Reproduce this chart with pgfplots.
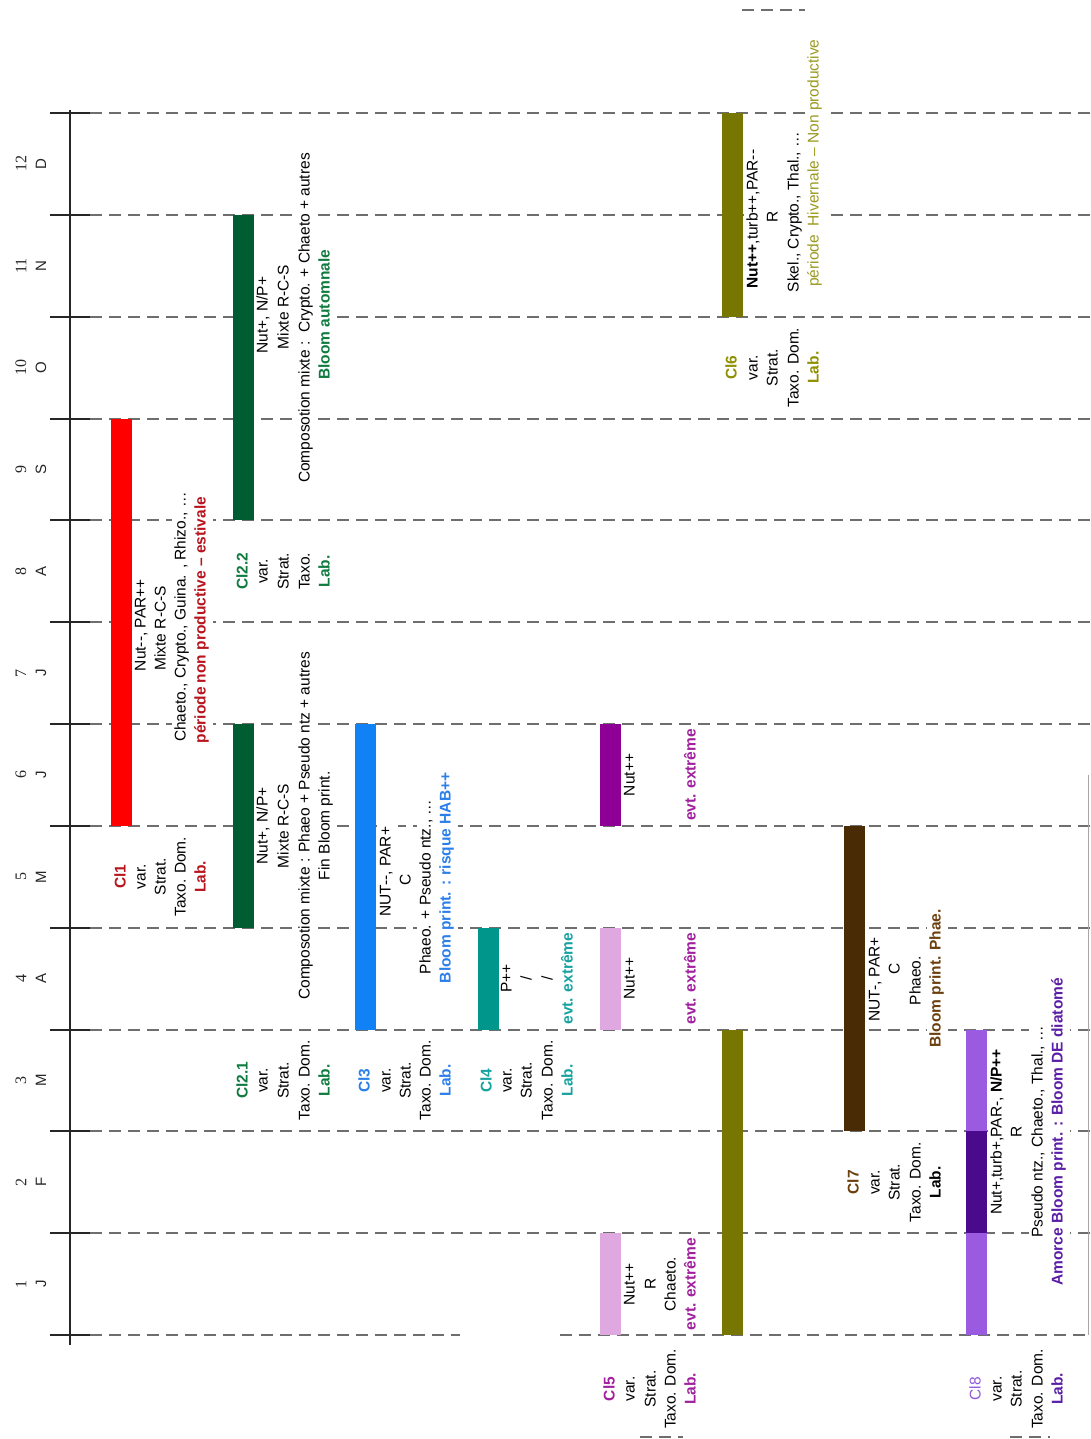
\documentclass[border=0pt]{standalone}
\usepackage{pgfplots}
\pgfplotsset{compat=1.18}
\usepackage{fontspec}
\setmainfont{Liberation Sans}
\newfontfamily\serifnum{Liberation Serif}

\definecolor{gridgray}{HTML}{6E6E6E}
\definecolor{cRed}{HTML}{FF0000}
\definecolor{tRed}{HTML}{B8141E}
\definecolor{cGreen}{HTML}{005C31}
\definecolor{tGreen}{HTML}{0F7B3F}
\definecolor{cBlue}{HTML}{1082F5}
\definecolor{tBlue}{HTML}{2A7FE8}
\definecolor{cTeal}{HTML}{00968C}
\definecolor{tTeal}{HTML}{16A3A0}
\definecolor{cPink}{HTML}{E0A8E0}
\definecolor{cPurple}{HTML}{8E0095}
\definecolor{tPurple}{HTML}{A0209E}
\definecolor{cOlive}{HTML}{767600}
\definecolor{tOlive}{HTML}{8F8F00}
\definecolor{tOlive2}{HTML}{9A9A20}
\definecolor{cBrown}{HTML}{492B06}
\definecolor{tBrown}{HTML}{6B3F0E}
\definecolor{cLav}{HTML}{9B5BE0}
\definecolor{cIndigo}{HTML}{4B0A8C}
\definecolor{tLav}{HTML}{8F5AD8}
\definecolor{tIndigo}{HTML}{5B1EA6}

\newcommand{\fs}{\fontsize{15.5}{18}\selectfont}
\tikzset{
  t/.style={rotate=90, fill=white, inner xsep=2pt, inner ysep=1.5pt,
    font=\fs, text=black},
  tb/.style={t, font=\fs\bfseries},
  mo/.style={rotate=90, inner sep=0pt, text=black!85},
  bar/.style={line width=21pt},
  dl/.style={gridgray, line width=2pt, dash pattern=on 12pt off 7pt},
}
\pgfplotsset{
  frame/.style={x=1pt, y=101.83pt, xmin=0, xmax=1090, ymin=-1.021, ymax=13.110,
    scale only axis, hide axis, clip=false, anchor=origin, at={(0,0)}},
}

\begin{document}
\begin{tikzpicture}
% lines layer
\begin{axis}[frame]
\coordinate (LL) at (axis cs:0,-1.021);
\coordinate (UR) at (axis cs:1090,13.110);
\pgfplotsinvokeforeach{1,...,12}{
  \addplot[dl] coordinates {(90,#1) (1090,#1)};
}
\addplot[dl] coordinates {(90,0) (460,0)};
\addplot[dl] coordinates {(560,0) (1090,0)};
\addplot[dl] coordinates {(742,13.012) (805,13.012)};
\addplot[dl] coordinates {(640,-1.002) (683,-1.002)};
\addplot[dl] coordinates {(1010,-1.0) (1050,-1.0)};
\addplot[gray!70, line width=0.8pt] coordinates {(1088,0) (1088,5.5)};
\addplot[black!85, line width=2pt] coordinates {(70,-0.1) (70,12.03)};
\pgfplotsinvokeforeach{0,...,12}{
  \addplot[black!85, line width=2pt] coordinates {(50,#1) (90,#1)};
}
\end{axis}

% text and bars
\begin{axis}[frame]
% month labels
\node[mo, font=\serifnum\fontsize{16}{16}\selectfont] at (axis cs:21,0.5) {1};
\node[mo, font=\serifnum\fontsize{16}{16}\selectfont] at (axis cs:21,1.5) {2};
\node[mo, font=\serifnum\fontsize{16}{16}\selectfont] at (axis cs:21,2.5) {3};
\node[mo, font=\serifnum\fontsize{16}{16}\selectfont] at (axis cs:21,3.5) {4};
\node[mo, font=\serifnum\fontsize{16}{16}\selectfont] at (axis cs:21,4.5) {5};
\node[mo, font=\serifnum\fontsize{16}{16}\selectfont] at (axis cs:21,5.5) {6};
\node[mo, font=\serifnum\fontsize{16}{16}\selectfont] at (axis cs:21,6.5) {7};
\node[mo, font=\serifnum\fontsize{16}{16}\selectfont] at (axis cs:21,7.5) {8};
\node[mo, font=\serifnum\fontsize{16}{16}\selectfont] at (axis cs:21,8.5) {9};
\node[mo, font=\serifnum\fontsize{16}{16}\selectfont] at (axis cs:21,9.5) {10};
\node[mo, font=\serifnum\fontsize{16}{16}\selectfont] at (axis cs:21,10.5) {11};
\node[mo, font=\serifnum\fontsize{16}{16}\selectfont] at (axis cs:21,11.5) {12};
\node[mo, font=\fontsize{15}{15}\selectfont] at (axis cs:41,0.5) {J};
\node[mo, font=\fontsize{15}{15}\selectfont] at (axis cs:41,1.5) {F};
\node[mo, font=\fontsize{15}{15}\selectfont] at (axis cs:41,2.5) {M};
\node[mo, font=\fontsize{15}{15}\selectfont] at (axis cs:41,3.5) {A};
\node[mo, font=\fontsize{15}{15}\selectfont] at (axis cs:41,4.5) {M};
\node[mo, font=\fontsize{15}{15}\selectfont] at (axis cs:41,5.5) {J};
\node[mo, font=\fontsize{15}{15}\selectfont] at (axis cs:41,6.5) {J};
\node[mo, font=\fontsize{15}{15}\selectfont] at (axis cs:41,7.5) {A};
\node[mo, font=\fontsize{15}{15}\selectfont] at (axis cs:41,8.5) {S};
\node[mo, font=\fontsize{15}{15}\selectfont] at (axis cs:41,9.5) {O};
\node[mo, font=\fontsize{15}{15}\selectfont] at (axis cs:41,10.5) {N};
\node[mo, font=\fontsize{15}{15}\selectfont] at (axis cs:41,11.5) {D};

% Cl1
\node[tb, text=tRed] at (axis cs:122,4.5) {\strut Cl1};
\node[t] at (axis cs:142,4.5) {\strut var.};
\node[t] at (axis cs:162,4.5) {\strut Strat.};
\node[t] at (axis cs:182,4.5) {\strut Taxo. Dom.};
\node[tb, text=tRed] at (axis cs:202,4.5) {\strut Lab.};
\node[t] at (axis cs:142,6.97) {\strut Nut-{}-, PAR++};
\node[t] at (axis cs:162,6.94) {\strut Mixte R-C-S};
\node[t] at (axis cs:182,7.05) {\strut Chaeto., Crypto., Guina. , Rhizo., \dots};
\node[tb, text=tRed] at (axis cs:202,7.02) {\strut période non productive – estivale};

% Cl2.1
\node[tb, text=tGreen] at (axis cs:244,2.5) {\strut Cl2.1};
\node[t] at (axis cs:264,2.5) {\strut var.};
\node[t] at (axis cs:285,2.5) {\strut Strat.};
\node[t] at (axis cs:306,2.5) {\strut Taxo. Dom.};
\node[tb, text=tGreen] at (axis cs:326,2.5) {\strut Lab.};
\node[t] at (axis cs:264,5) {\strut Nut+, N/P+};
\node[t] at (axis cs:285,5) {\strut Mixte R-C-S};
\node[t] at (axis cs:306,5) {\strut Composotion mixte : Phaeo + Pseudo ntz + autres};
\node[t] at (axis cs:326,5) {\strut Fin Bloom print.};

% Cl2.2
\node[tb, text=tGreen] at (axis cs:244,7.5) {\strut Cl2.2};
\node[t] at (axis cs:264,7.5) {\strut var.};
\node[t] at (axis cs:285,7.5) {\strut Strat.};
\node[t] at (axis cs:306,7.5) {\strut Taxo.};
\node[tb, text=tGreen] at (axis cs:326,7.5) {\strut Lab.};
\node[t] at (axis cs:264,10.017) {\strut Nut+, N/P+};
\node[t] at (axis cs:285,10.095) {\strut Mixte R-C-S};
\node[t] at (axis cs:306,9.987) {\strut Composotion mixte :\ \ Crypto. + Chaeto + autres};
\node[tb, text=tGreen] at (axis cs:326,10.02) {\strut Bloom automnale};

% Cl3
\node[tb, text=tBlue] at (axis cs:366,2.5) {\strut Cl3};
\node[t] at (axis cs:387,2.5) {\strut var.};
\node[t] at (axis cs:407,2.5) {\strut Strat.};
\node[t] at (axis cs:427,2.5) {\strut Taxo. Dom.};
\node[tb, text=tBlue] at (axis cs:447,2.5) {\strut Lab.};
\node[t] at (axis cs:387,4.55) {\strut NUT-{}-, PAR+};
\node[t] at (axis cs:407,4.47) {\strut C};
\node[t] at (axis cs:427,4.4) {\strut Phaeo. + Pseudo ntz., \dots};
\node[tb, text=tBlue] at (axis cs:447,4.49) {\strut Bloom print. : risque HAB++};

% Cl4
\node[tb, text=tTeal] at (axis cs:488,2.5) {\strut Cl4};
\node[t] at (axis cs:508,2.5) {\strut var.};
\node[t] at (axis cs:528,2.5) {\strut Strat.};
\node[t] at (axis cs:549,2.5) {\strut Taxo. Dom.};
\node[tb, text=tTeal] at (axis cs:569,2.5) {\strut Lab.};
\node[t] at (axis cs:508,3.5) {\strut P++};
\node[t] at (axis cs:528,3.5) {\strut /};
\node[t] at (axis cs:549,3.5) {\strut /};
\node[tb, text=tTeal] at (axis cs:569,3.5) {\strut evt. extrême};

% Cl5
\node[tb, text=tPurple] at (axis cs:611,-0.53) {\strut Cl5};
\node[t] at (axis cs:631,-0.53) {\strut var.};
\node[t] at (axis cs:652,-0.53) {\strut Strat.};
\node[t] at (axis cs:672,-0.53) {\strut Taxo. Dom.};
\node[tb, text=tPurple] at (axis cs:692,-0.53) {\strut Lab.};
\node[t] at (axis cs:631,0.5) {\strut Nut++};
\node[t] at (axis cs:652,0.5) {\strut R};
\node[t] at (axis cs:672,0.5) {\strut Chaeto.};
\node[tb, text=tPurple] at (axis cs:692,0.5) {\strut evt. extrême};
\node[t] at (axis cs:631,3.5) {\strut Nut++};
\node[tb, text=tPurple] at (axis cs:692,3.5) {\strut evt. extrême};
\node[t] at (axis cs:631,5.5) {\strut Nut++};
\node[tb, text=tPurple] at (axis cs:692,5.5) {\strut evt. extrême};

% Cl6
\node[tb, text=tOlive] at (axis cs:733,9.5) {\strut Cl6};
\node[t] at (axis cs:754,9.5) {\strut var.};
\node[t] at (axis cs:774,9.5) {\strut Strat.};
\node[t] at (axis cs:795,9.5) {\strut Taxo. Dom.};
\node[tb, text=tOlive] at (axis cs:815,9.5) {\strut Lab.};
\node[t] at (axis cs:754,10.959) {\strut \textbf{Nut++},turb++,PAR-{}-};
\node[t] at (axis cs:774,10.979) {\strut R};
\node[t] at (axis cs:795,11.028) {\strut Skel., Crypto., Thal., \dots};
\node[t, text=tOlive2] at (axis cs:815,11.509) {\strut période\ \ Hivernale – Non productive};

% Cl7
\node[tb, text=tBrown] at (axis cs:855,1.5) {\strut Cl7};
\node[t] at (axis cs:876,1.5) {\strut var.};
\node[t] at (axis cs:896,1.5) {\strut Strat.};
\node[t] at (axis cs:917,1.5) {\strut Taxo. Dom.};
\node[tb] at (axis cs:937,1.5) {\strut Lab.};
\node[t] at (axis cs:876,3.49) {\strut NUT-, PAR+};
\node[t] at (axis cs:896,3.6) {\strut C};
\node[t] at (axis cs:917,3.48) {\strut Phaeo.};
\node[tb, text=tBrown] at (axis cs:937,3.5) {\strut Bloom print. Phae.};

% Cl8
\node[t, text=tLav] at (axis cs:977,-0.53) {\strut Cl8};
\node[t] at (axis cs:998,-0.53) {\strut var.};
\node[t] at (axis cs:1018,-0.53) {\strut Strat.};
\node[t] at (axis cs:1039,-0.53) {\strut Taxo. Dom.};
\node[tb, text=tIndigo] at (axis cs:1059,-0.53) {\strut Lab.};
\node[t] at (axis cs:998,1.994) {\strut Nut+,turb+,PAR-, \textbf{N/P++}};
\node[t] at (axis cs:1018,1.994) {\strut R};
\node[t] at (axis cs:1039,1.994) {\strut Pseudo ntz., Chaeto., Thal., \dots};
\node[tb, text=tIndigo] at (axis cs:1059,1.994) {\strut Amorce Bloom print. : Bloom DE diatomé};

% bars (x position, start month boundary, end month boundary)
\addplot[bar, cRed] coordinates {(121,5) (121,9)};
\addplot[bar, cGreen] coordinates {(243.5,4) (243.5,6)};
\addplot[bar, cGreen] coordinates {(243.5,8) (243.5,11)};
\addplot[bar, cBlue] coordinates {(365.5,3) (365.5,6)};
\addplot[bar, cTeal] coordinates {(488,3) (488,4)};
\addplot[bar, cPink] coordinates {(610,0) (610,1)};
\addplot[bar, cPink] coordinates {(610,3) (610,4)};
\addplot[bar, cPurple] coordinates {(610,5) (610,6)};
\addplot[bar, cOlive] coordinates {(732.5,0) (732.5,3)};
\addplot[bar, cOlive] coordinates {(732.5,10) (732.5,12)};
\addplot[bar, cBrown] coordinates {(854,2) (854,5)};
\addplot[bar, cLav] coordinates {(976.5,0) (976.5,3)};
\addplot[bar, cIndigo] coordinates {(976.5,1) (976.5,2)};
\end{axis}
\pgfresetboundingbox
\path (LL) rectangle (UR);
\end{tikzpicture}
\end{document}
